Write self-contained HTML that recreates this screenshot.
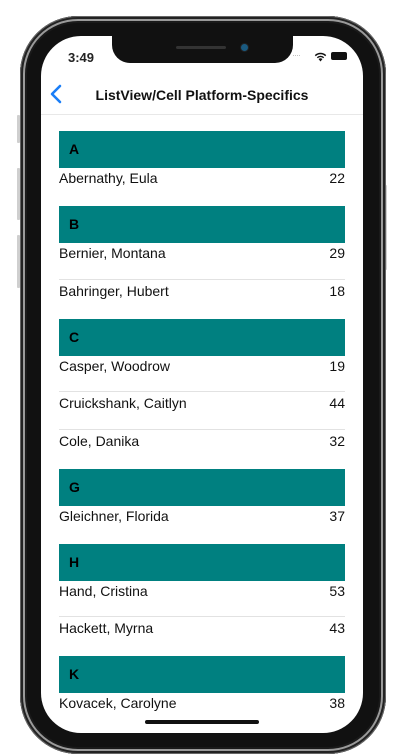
<!DOCTYPE html>
<html><head><meta charset="utf-8">
<style>
html,body{margin:0;padding:0;width:402px;height:756px;background:#fff;overflow:hidden;font-family:"Liberation Sans",sans-serif}
.abs{position:absolute}
.phone{left:20px;top:16px;width:366px;height:738px;border-radius:58px;background:#111;box-shadow:inset 0 0 0 1px #666,inset 0 0 0 3px #222,inset 0 0 0 5px #9a9a9a,inset 0 0 0 7px #1a1a1a}
.screen{left:41px;top:36px;width:322px;height:697px;border-radius:40px;background:#fff;overflow:hidden}
.btn{background:#cfcfcf;border-radius:1px}
.hdr{left:18px;width:286px;height:37px;background:#008080;color:#000;font-size:14px;font-weight:bold;line-height:37px;padding-left:10px;box-sizing:border-box}
.row{left:18px;width:286px;height:20px;font-size:14px;color:#111;line-height:20px}
.row span{position:absolute;right:0}
.sep{left:18px;width:286px;height:1px;background:#e2e2e2}
</style></head><body>
<div class="abs btn" style="left:17px;top:115px;width:3px;height:28px"></div>
<div class="abs btn" style="left:17px;top:168px;width:3px;height:52px"></div>
<div class="abs btn" style="left:17px;top:235px;width:3px;height:53px"></div>
<div class="abs btn" style="left:384px;top:185px;width:3px;height:85px"></div>
<div class="abs phone"></div>
<div class="abs screen" id="screen">
  <div class="abs" style="left:71px;top:-2px;width:181px;height:29px;background:#111;border-radius:0 0 18px 18px"></div>
  <div class="abs" style="left:135px;top:10px;width:50px;height:3px;background:#333;border-radius:2px"></div>
  <div class="abs" style="left:199px;top:7px;width:7px;height:7px;background:#1a5a80;border-radius:50%;border:1px solid #222"></div>
  <div class="abs" style="left:27px;top:14px;font-size:13px;font-weight:bold;color:#222">3:49</div>
  <div class="abs" style="left:251px;top:14px;font-size:9px;color:#bbb;letter-spacing:-1px">····</div>
  <svg class="abs" style="left:273px;top:16px" width="13" height="10" viewBox="0 0 13 10"><path d="M6.5 9.5L4.5 7a3 3 0 0 1 4 0z M2.8 5.2a5.3 5.3 0 0 1 7.4 0l-1 1.1a3.8 3.8 0 0 0-5.4 0z M0.8 3.1a8.2 8.2 0 0 1 11.4 0l-1 1.1a6.7 6.7 0 0 0-9.4 0z" fill="#111"/></svg>
  <div class="abs" style="left:290px;top:16px;width:16px;height:8px;background:#111;border-radius:2px"></div>
  <div class="abs" style="left:9px;top:48px;color:#1a7ef7;font-size:24px;line-height:24px">
    <svg width="12" height="20" viewBox="0 0 12 20"><path d="M10 2L2 10l8 8" stroke="#1a7ef7" stroke-width="2.6" fill="none" stroke-linecap="round" stroke-linejoin="round"/></svg></div>
  <div class="abs" style="left:0;width:322px;top:51px;text-align:center;font-size:14px;font-weight:bold;color:#111">ListView/Cell Platform-Specifics</div>
  <div class="abs" style="left:0;top:78px;width:322px;height:1px;background:#e8e8e8"></div>
  <div class="abs" style="left:104px;top:684px;width:114px;height:4px;background:#111;border-radius:2px"></div>
</div>
<script>
const groupLetters = ["A","B","C","G","H","K"];
const groupNames = [["Abernathy, Eula"],["Bernier, Montana","Bahringer, Hubert"],["Casper, Woodrow","Cruickshank, Caitlyn","Cole, Danika"],["Gleichner, Florida"],["Hand, Cristina","Hackett, Myrna"],["Kovacek, Carolyne"]];
const groupValues = [[22],[29,18],[19,44,32],[37],[53,43],[38]];
const scr = document.getElementById('screen');
let y = 95;
groupLetters.forEach((L, gi) => {
  const h = document.createElement('div');
  h.className = 'abs hdr';
  h.style.top = y + 'px';
  h.textContent = L;
  
  
  scr.appendChild(h);
  y += 37;
  groupNames[gi].forEach((n, ri) => {
    if (ri > 0) {
      const s = document.createElement('div');
      s.className = 'abs sep';
      s.style.top = (y - 2) + 'px';
      
      
      scr.appendChild(s);
    }
    const r = document.createElement('div');
    r.className = 'abs row';
    r.style.top = (y) + 'px';
    r.innerHTML = n + '<span>' + groupValues[gi][ri] + '</span>';
    
    
    scr.appendChild(r);
    y += 37.5;
  });
  y += 0.5;
});
</script>
</body></html>
